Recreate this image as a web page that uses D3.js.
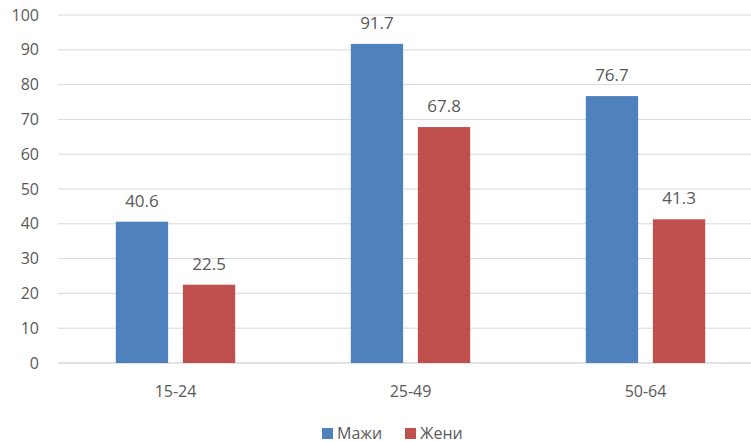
<!DOCTYPE html>
<html>
<head>
<meta charset="utf-8">
<script src="https://cdn.jsdelivr.net/npm/d3@7"></script>
<style>
  body { margin: 0; background: #fff; }
  text { font-family: "Open Sans", sans-serif; fill: #595959; }
</style>
</head>
<body>
<svg width="751" height="442"></svg>
<script>
// chart data
var ageGroups = ["15-24", "25-49", "50-64"];
var seriesNames = ["Мажи", "Жени"];
var men = [40.6, 91.7, 76.7];
var women = [22.5, 67.8, 41.3];
var yTicks = [0, 10, 20, 30, 40, 50, 60, 70, 80, 90, 100];
var colors = ["#4F81BD", "#C0504D"];

var svg = d3.select("svg");
var plotLeft = 58, plotRight = 763, plotTop = 15, plotBottom = 363;

var x = d3.scaleBand().domain(ageGroups).range([plotLeft, plotRight]);
var inner = d3.scaleBand().domain(seriesNames).range([57.8, x.bandwidth() - 57.8]).paddingInner(0.22);
var y = d3.scaleLinear().domain([0, 100]).range([plotBottom, plotTop]);

// grid
svg.append("g").selectAll("line").data(yTicks).enter().append("line")
  .attr("x1", plotLeft).attr("x2", 751)
  .attr("y1", function(d) { return y(d); }).attr("y2", function(d) { return y(d); })
  .attr("stroke", "#D9D9D9")
  .attr("stroke-width", function(d) { return d === 0 ? 1.5 : 1; });

// y labels
svg.append("g").selectAll("text").data(yTicks).enter().append("text")
  .attr("x", 39).attr("y", function(d) { return y(d); })
  .attr("dy", "0.35em").attr("text-anchor", "end")
  .attr("font-size", "16px")
  .text(function(d) { return d; });

var rows = ageGroups.map(function(g, i) {
  return [{ s: seriesNames[0], g: g, v: men[i] }, { s: seriesNames[1], g: g, v: women[i] }];
});

var groups = svg.append("g").selectAll("g").data(rows).enter().append("g")
  .attr("transform", function(d, i) { return "translate(" + x(ageGroups[i]) + ",0)"; });

groups.selectAll("rect").data(function(d) { return d; }).enter().append("rect")
  .attr("x", function(d) { return inner(d.s); })
  .attr("width", inner.bandwidth())
  .attr("y", function(d) { return y(d.v); })
  .attr("height", function(d) { return plotBottom - y(d.v); })
  .attr("fill", function(d, i) { return colors[i]; });

groups.selectAll("text").data(function(d) { return d; }).enter().append("text")
  .attr("x", function(d) { return inner(d.s) + inner.bandwidth() / 2; })
  .attr("y", function(d) { return y(d.v) - 15; })
  .attr("text-anchor", "middle")
  .attr("font-size", "17px")
  .text(function(d) { return d.v.toFixed(1); });

// category labels
svg.append("g").selectAll("text").data(ageGroups).enter().append("text")
  .attr("x", function(d) { return x(d) + x.bandwidth() / 2; })
  .attr("y", 397)
  .attr("text-anchor", "middle")
  .attr("font-size", "16px")
  .text(function(d) { return d; });

// legend
var legendX = [322, 405];
var legend = svg.append("g").selectAll("g").data(seriesNames).enter().append("g")
  .attr("transform", function(d, i) { return "translate(" + legendX[i] + ",428)"; });
legend.append("rect").attr("width", 11).attr("height", 11)
  .attr("fill", function(d, i) { return colors[i]; });
legend.append("text").attr("x", 15).attr("y", 10.5)
  .attr("font-size", "16px")
  .text(function(d) { return d; });
</script>
</body>
</html>
